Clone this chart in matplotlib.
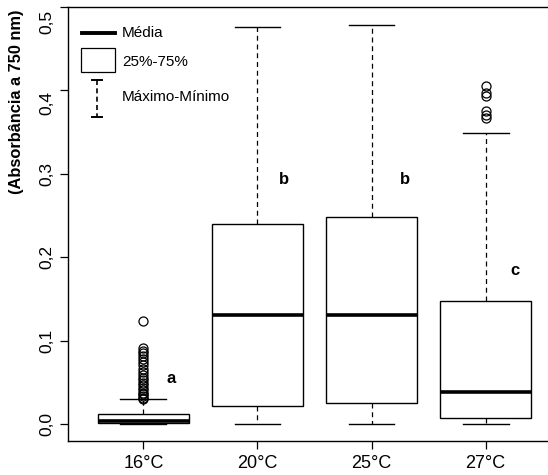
import matplotlib
matplotlib.use("Agg")
import matplotlib.pyplot as plt
import matplotlib.transforms as mtransforms
from matplotlib.lines import Line2D
from matplotlib.patches import Rectangle

plt.rcParams['font.family'] = ['Liberation Sans', 'DejaVu Sans']

# summary statistics per temperature
temps = ["16°C", "20°C", "25°C", "27°C"]
q1 = [0.002, 0.022, 0.026, 0.008]
med = [0.004, 0.131, 0.131, 0.039]
q3 = [0.0125, 0.240, 0.248, 0.148]
whis_lo = [0.0, 0.0, 0.0, 0.0]
whis_hi = [0.030, 0.476, 0.478, 0.349]
outliers_16 = [0.124, 0.091, 0.088, 0.085, 0.082, 0.079, 0.075, 0.071, 0.067,
               0.063, 0.059, 0.056, 0.053, 0.050, 0.047, 0.044, 0.041, 0.038,
               0.036, 0.034, 0.032, 0.031]
outliers_27 = [0.405, 0.397, 0.393, 0.375, 0.371, 0.367]
outliers = [outliers_16, [], [], outliers_27]

# significance letters and where they sit
letters = ["a", "b", "b", "c"]
letter_y = [0.0545, 0.293, 0.293, 0.185]
letter_dx = [0.24, 0.23, 0.29, 0.26]

yticks = [0.0, 0.1, 0.2, 0.3, 0.4, 0.5]
ytick_labels = ["0,0", "0,1", "0,2", "0,3", "0,4", "0,5"]

W, H = 548, 475
fig = plt.figure(figsize=(W / 100, H / 100), dpi=100)
ax = fig.add_axes([68 / W, (H - 441) / H, (561 - 68) / W, (441 - 7) / H])

stats = []
for i in range(len(temps)):
    stats.append(dict(med=med[i], q1=q1[i], q3=q3[i], whislo=whis_lo[i],
                      whishi=whis_hi[i], fliers=outliers[i]))

ax.bxp(stats, positions=range(1, 5), widths=0.8, patch_artist=True,
       boxprops=dict(facecolor='white', edgecolor='black', linewidth=1.0),
       medianprops=dict(color='black', linewidth=2.6, solid_capstyle='butt'),
       whiskerprops=dict(color='black', linewidth=0.9, linestyle=(0, (4, 3))),
       capprops=dict(color='black', linewidth=1.0),
       capwidths=0.4,
       flierprops=dict(marker='o', markerfacecolor='none', markeredgecolor='black',
                       markersize=6.5, markeredgewidth=0.9))

for i, t in enumerate(letters):
    ax.text(i + 1 + letter_dx[i], letter_y[i], t, fontsize=12, fontweight='bold',
            ha='center', va='center')

ax.set_xlim(0.34, 4.66)
ax.set_ylim(-0.0198, 0.5)
ax.set_xticks(range(1, 5))
ax.set_xticklabels(temps, fontsize=13)
ax.set_yticks(yticks)
ax.set_yticklabels(ytick_labels, fontsize=12.5, rotation=90, va='center')
ax.tick_params(axis='both', direction='out', length=6, width=0.9, pad=4)
for s in ax.spines.values():
    s.set_linewidth(1.0)

# the two top labels sit a little lower than their ticks
for lab, shift in zip(ax.get_yticklabels()[-2:], [13, 15]):
    lab.set_transform(lab.get_transform() +
                      mtransforms.ScaledTranslation(0, -shift / 100, fig.dpi_scale_trans))

fig.text(17 / W, 1 - 10 / H, "(Absorbância a 750 nm)", rotation=90, fontsize=11.8,
         fontweight='bold', ha='center', va='top')


# legend drawn in figure pixel space
def fx(x):
    return x / W


def fy(y):
    return 1 - y / H


fig.add_artist(Line2D([fx(82), fx(115)], [fy(33), fy(33)], color='black', linewidth=2.8))
fig.add_artist(Rectangle((fx(81), fy(72)), fx(115) - fx(81), fy(48) - fy(72),
                         facecolor='white', edgecolor='black', linewidth=0.9))
fig.add_artist(Line2D([fx(97), fx(97)], [fy(80), fy(117)], color='black',
                      linewidth=1.2, linestyle=(0, (3, 2))))
fig.add_artist(Line2D([fx(92), fx(102)], [fy(80), fy(80)], color='black', linewidth=1.4))
fig.add_artist(Line2D([fx(92), fx(102)], [fy(117), fy(117)], color='black', linewidth=1.4))
for y, t in [(33, "Média"), (62, "25%-75%"), (97, "Máximo-Mínimo")]:
    fig.text(fx(122), fy(y), t, fontsize=11, ha='left', va='center')

fig.savefig("out.png", dpi=100)
